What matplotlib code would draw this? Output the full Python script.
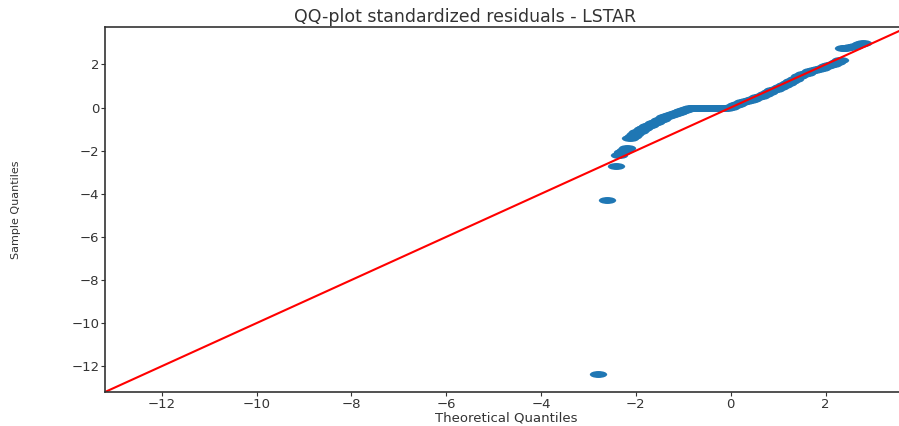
import matplotlib
matplotlib.use("Agg")
import matplotlib.pyplot as plt
from matplotlib.path import Path
from matplotlib.transforms import Affine2D

theoretical = [-2.81, -2.60, -2.41, -2.36, -2.30, -2.24, -2.18,
               -2.12, -2.07, -2.02, -1.97, -1.92, -1.87, -1.82, -1.76, -1.70,
               -1.64, -1.58, -1.52, -1.46, -1.40, -1.34, -1.28, -1.22, -1.16,
               -1.10, -1.04, -0.98, -0.92, -0.86, -0.80, -0.72, -0.64, -0.56,
               -0.48, -0.40, -0.32, -0.24, -0.16, -0.08, 0.00, 0.08, 0.16,
               0.24, 0.32, 0.40, 0.48, 0.56, 0.64, 0.72, 0.80, 0.88, 0.96,
               1.04, 1.12, 1.20, 1.28, 1.36, 1.44, 1.52, 1.60, 1.68, 1.76,
               1.84, 1.92, 2.00, 2.08, 2.16, 2.24, 2.30, 2.36, 2.42, 2.52,
               2.62, 2.72, 2.80]
sample = [-12.37, -4.29, -2.72, -2.22, -2.08, -1.95, -1.88,
          -1.40, -1.33, -1.24, -1.15, -1.07, -1.00, -0.93, -0.86, -0.79,
          -0.72, -0.65, -0.58, -0.51, -0.45, -0.40, -0.35, -0.30, -0.25,
          -0.21, -0.16, -0.11, -0.06, -0.02, 0.00, 0.00, 0.00, 0.00,
          0.00, 0.00, 0.00, 0.00, 0.00, 0.00, 0.05, 0.12, 0.18,
          0.24, 0.29, 0.35, 0.42, 0.49, 0.56, 0.64, 0.72, 0.80, 0.88,
          0.95, 1.03, 1.12, 1.22, 1.32, 1.45, 1.56, 1.62, 1.68, 1.74,
          1.80, 1.86, 1.92, 1.98, 2.04, 2.12, 2.22, 2.75, 2.78, 2.82,
          2.88, 2.95, 3.00]
lims = [-13.2, 3.74]
xticks = [-12, -10, -8, -6, -4, -2, 0, 2]
yticks = [-12, -10, -8, -6, -4, -2, 0, 2]

dark = "#333333"
fig = plt.figure(figsize=(8.99, 4.26), dpi=100)
ax = fig.add_axes([105 / 899, 34 / 426, 803 / 899, 365 / 426])

# the reference is stretched sideways, so the dots are flat ellipses
circle = Path.unit_circle()
ellipse = Path(Affine2D().scale(2.5, 1.0).transform(circle.vertices), circle.codes)

ax.plot(theoretical, sample, linestyle="none", marker=ellipse,
        markersize=12.5, color="#1f77b4", markeredgewidth=0)
ax.plot(lims, lims, color="red", linewidth=1.5)

ax.set_xlim(lims)
ax.set_ylim(lims)
ax.set_xticks(xticks)
ax.set_yticks(yticks)
ax.tick_params(colors=dark, labelsize=9.5, length=3, pad=1)
for side in ["left", "bottom", "top"]:
    ax.spines[side].set_color(dark)
    ax.spines[side].set_linewidth(1.2)
ax.spines["right"].set_visible(False)

ax.set_xlabel("Theoretical Quantiles", fontsize=9.5, color=dark)
ax.xaxis.set_label_coords(0.5, -0.053)
ax.set_ylabel("Sample Quantiles", fontsize=8, color=dark)
ax.yaxis.set_label_coords(-0.105, 0.5)
fig.text(465 / 899, 1 - 17 / 426, "QQ-plot standardized residuals - LSTAR",
         ha="center", va="center", fontsize=12.5, color=dark)

fig.savefig("out.png", dpi=100)
